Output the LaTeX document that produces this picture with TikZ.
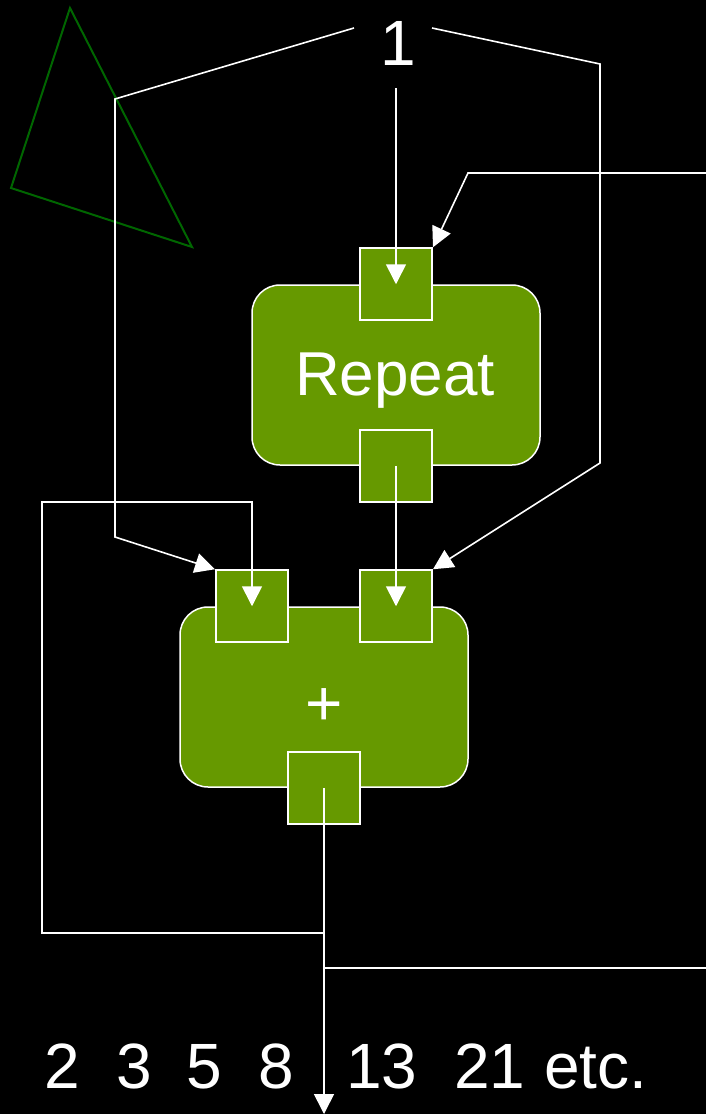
\documentclass[tikz,border=0pt]{standalone}
\usepackage{fontspec}
\setmainfont{Liberation Sans}
\usetikzlibrary{arrows.meta}
\usetikzlibrary{positioning}

\definecolor{blockgreen}{RGB}{102,153,0}
\definecolor{triggreen}{RGB}{0,102,0}

\begin{document}
\begin{tikzpicture}[x=1pt,y=-1pt,
  block/.style={rectangle,rounded corners=28pt,draw=white,line width=1.5pt,fill=blockgreen,minimum width=288pt,minimum height=180pt},
  port/.style={rectangle,draw=white,line width=2pt,fill=blockgreen,minimum size=72pt,inner sep=0pt},
  wire/.style={draw=white,line width=1.6pt},
  flow/.style={wire,-{Triangle[length=20pt,width=20pt]}},
  big/.style={text=white,font=\fontsize{64}{64}\selectfont,inner sep=0pt}]

\fill[black] (0,0) rectangle (706,1114);
\useasboundingbox (0,0) rectangle (706,1114);

% stray triangle in the corner
\draw[triggreen,line width=2pt] (70,8) -- (11,188) -- (192,247) -- cycle;

% the two blocks
\node[block] (rbody) at (396,375) {};
\node[big,font=\fontsize{62}{62}\selectfont,anchor=base] (rlabel) at (395,395) {Repeat};
\node[block] (pbody) at (324,697) {};
\node[big,anchor=base] (plabel) at (324,725) {+};

% ports
\node[port] (rin)  at (rbody.north) {};
\node[port] (rout) at (rbody.south) {};
\node[port] (pinl) at ([xshift=-72pt]pbody.north) {};
\node[port] (pinr) at ([xshift=72pt]pbody.north) {};
\node[port] (pout) at (pbody.south) {};

\node[big,anchor=base] (one) at (398,65) {1};

% bends
\coordinate (oneW) at (354,28);
\coordinate (oneE) at (432,28);
\coordinate (oneS) at (396,88);
\coordinate (kL1) at (115,99);
\coordinate (kL2) at (115,537);
\coordinate (kR1) at (600,64);
\coordinate (kR2) at (600,463);
\coordinate (inR) at (706,173);
\coordinate (kIn) at (468,173);
\coordinate (fb1) at (324,933);
\coordinate (fb2) at (42,933);
\coordinate (fb3) at (42,502);
\coordinate (fb4) at (252,502);
\coordinate (split) at (324,968);
\coordinate (exitR) at (706,968);
\coordinate (exitB) at (324,1114);

\draw[flow] (oneS) -- (rin.center);
\draw[flow] (oneW) -- (kL1) -- (kL2) -- (pinl.north west);
\draw[flow] (oneE) -- (kR1) -- (kR2) -- (pinr.north east);
\draw[flow] (inR) -- (kIn) -- (rin.north east);
\draw[flow] (rout.center) -- (pinr.center);
\draw[flow] (pout.center) -- (exitB);
\draw[flow] (fb1) -- (fb2) -- (fb3) -- (fb4) -- (pinl.center);
\draw[wire] (split) -- (exitR);

% the sequence
\node[big,anchor=base west] (n2)  at (44,1088)  {2};
\node[big,anchor=base west] (n3)  at (116,1088) {3};
\node[big,anchor=base west] (n5)  at (186,1088) {5};
\node[big,anchor=base west] (n8)  at (258,1088) {8};
\node[big,anchor=base west] (n13) at (346,1088) {13};
\node[big,anchor=base west] (n21) at (454,1088) {21};
\node[big,anchor=base west] (etc) at (544,1088) {etc.};

\end{tikzpicture}
\end{document}
